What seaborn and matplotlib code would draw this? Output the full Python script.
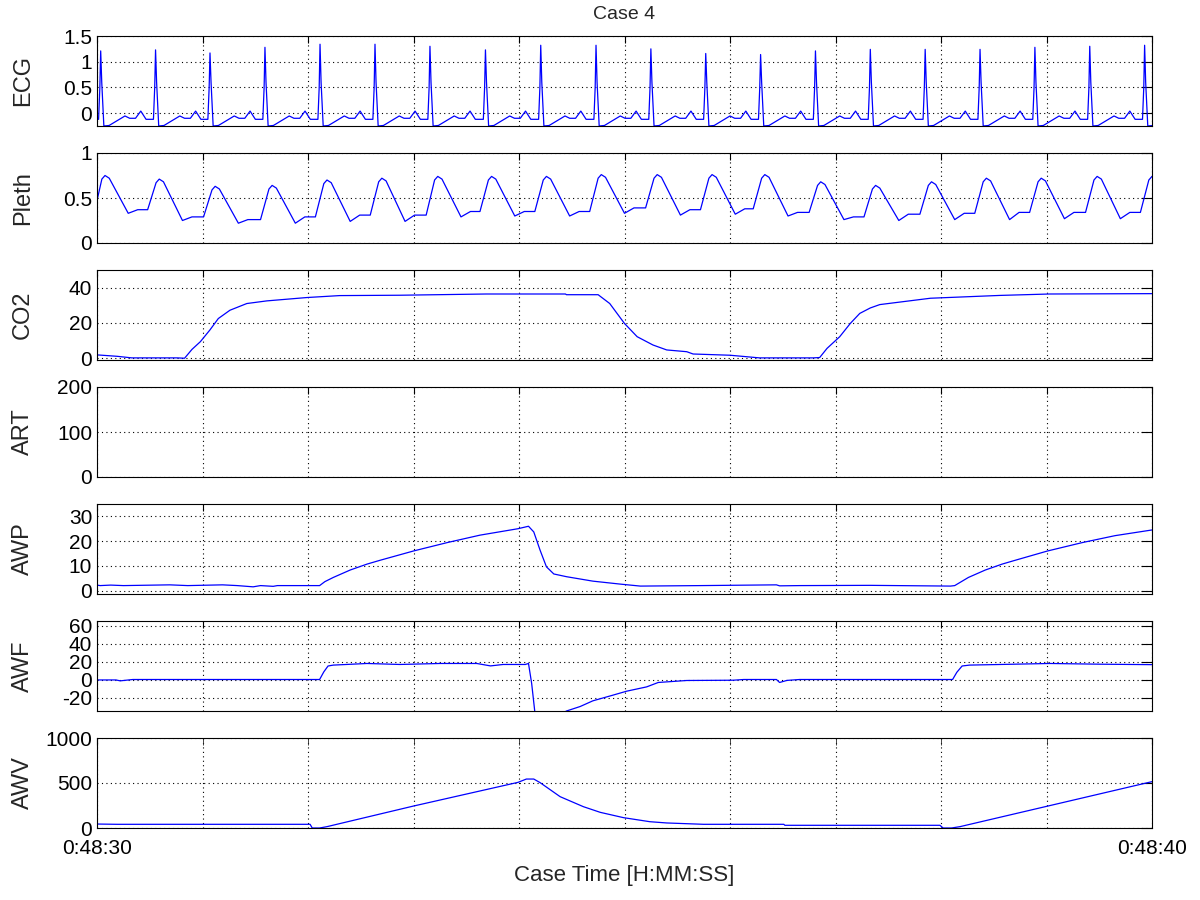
import numpy as np
import pandas as pd
import matplotlib
matplotlib.use('Agg')
import matplotlib.pyplot as plt
import seaborn as sns
from matplotlib.ticker import FormatStrFormatter

# time runs in seconds from 0:48:30 to 0:48:40
x_tick_labels = ['0:48:30', '0:48:40']
channels = ['ECG', 'Pleth', 'CO2', 'ART', 'AWP', 'AWF', 'AWV']

# ECG: R-peak times/heights and the shape of one beat around its R peak
ecg_r_times = [0.035, 0.555, 1.071, 1.592, 2.114, 2.635, 3.156, 3.682, 4.206, 4.73,
               5.25, 5.77, 6.29, 6.81, 7.33, 7.85, 8.37, 8.89, 9.41, 9.93]
ecg_r_heights = [1.21, 1.23, 1.17, 1.28, 1.34, 1.34, 1.30, 1.23, 1.32, 1.32,
                 1.25, 1.16, 1.14, 1.21, 1.24, 1.24, 1.24, 1.28, 1.30, 1.32]
ecg_beat_offsets = [-0.02, -0.008, 0.0, 0.01, 0.03, 0.08, 0.23, 0.275, 0.33, 0.38, 0.43, 0.495]
ecg_beat_values = [-0.12, 0.5, np.nan, 0.6, -0.25, -0.24, -0.055, -0.10, -0.10, 0.04, -0.12, -0.12]

# Pleth: per-pulse peak time, peak, trough and plateau levels
pleth_peak_t = [0.076, 0.59, 1.12, 1.66, 2.18, 2.70, 3.23, 3.74, 4.26, 4.78,
                5.31, 5.83, 6.33, 6.86, 7.38, 7.91, 8.43, 8.95, 9.48, 10.0]
pleth_peak_v = [0.75, 0.71, 0.63, 0.64, 0.70, 0.72, 0.74, 0.74, 0.74, 0.76,
                0.76, 0.76, 0.76, 0.68, 0.64, 0.68, 0.72, 0.72, 0.74, 0.74]
pleth_trough_v = [0.33, 0.25, 0.22, 0.22, 0.24, 0.24, 0.29, 0.30, 0.30, 0.33,
                  0.31, 0.32, 0.30, 0.26, 0.25, 0.26, 0.26, 0.27, 0.27, 0.27]
pleth_plateau_v = [0.37, 0.29, 0.26, 0.29, 0.31, 0.31, 0.35, 0.35, 0.35, 0.39,
                   0.37, 0.38, 0.34, 0.29, 0.32, 0.33, 0.34, 0.34, 0.34, 0.34]
pleth_start = 0.47

# CO2
co2_t = [0.0, 0.19, 0.33, 0.76, 0.83, 0.90, 0.98, 1.07, 1.15, 1.26, 1.42, 1.61, 1.99, 2.30,
         2.87, 3.69, 4.44, 4.45, 4.75, 4.86, 5.00, 5.12, 5.27, 5.40, 5.59, 5.65, 6.00, 6.28,
         6.79, 6.85, 6.92, 7.04, 7.14, 7.23, 7.33, 7.42, 7.90, 8.56, 9.03, 10.0]
co2_v = [1.9, 1.1, 0.2, 0.2, 0.0, 5.0, 9.4, 16.0, 22.5, 27.2, 31.0, 32.5, 34.4, 35.5,
         35.7, 36.4, 36.4, 36.0, 36.0, 31.0, 19.7, 12.2, 7.5, 4.7, 3.7, 2.4, 1.7, 0.2,
         0.2, 0.4, 5.6, 12.2, 19.7, 25.4, 28.5, 30.4, 34.0, 35.6, 36.4, 36.6]

# AWP
awp_t = [0.0, 0.03, 0.13, 0.25, 0.69, 0.86, 1.19, 1.33, 1.48, 1.55, 1.67, 1.71, 2.11, 2.16,
         2.24, 2.40, 2.56, 2.68, 3.00, 3.32, 3.63, 3.99, 4.09, 4.14, 4.20, 4.26, 4.33, 4.45,
         4.70, 4.96, 5.15, 5.72, 6.44, 6.47, 6.66, 7.33, 8.09, 8.13, 8.26, 8.42, 8.58, 8.70,
         9.01, 9.34, 9.65, 10.0]
awp_v = [2.2, 2.0, 2.2, 2.0, 2.3, 2.0, 2.3, 2.0, 1.5, 2.0, 1.7, 2.0, 2.0, 3.6,
         5.3, 8.3, 10.7, 12.2, 16.0, 19.4, 22.4, 25.0, 26.0, 23.7, 16.3, 9.6, 6.7, 5.6,
         3.8, 2.6, 1.8, 2.0, 2.3, 1.9, 2.0, 2.1, 1.8, 2.0, 5.3, 8.3, 10.7, 12.2,
         16.0, 19.4, 22.2, 24.5]

# AWF
awf_t = [0.0, 0.18, 0.22, 0.34, 2.11, 2.15, 2.19, 2.24, 2.56, 2.87, 3.25, 3.60, 3.73, 3.85,
         4.06, 4.09, 4.12, 4.15, 4.20, 4.34, 4.45, 4.58, 4.70, 4.89, 5.02, 5.21, 5.32, 5.59,
         6.03, 6.13, 6.44, 6.47, 6.54, 6.66, 8.11, 8.15, 8.20, 8.27, 9.03, 9.51, 10.0]
awf_v = [-0.5, -0.5, -1.5, 0.0, 0.0, 8.5, 15.0, 16.0, 17.8, 16.7, 17.8, 17.8, 15.1, 16.7,
         16.7, 17.8, -4.4, -36.0, -46.0, -42.0, -35.0, -30.0, -23.7, -17.4, -13.0, -8.2, -3.3, -1.1,
         -0.8, 0.0, 0.0, -3.3, -1.0, 0.0, 0.0, 8.0, 15.0, 16.0, 17.8, 17.0, 16.5]

# AWV
awv_t = [0.0, 0.19, 2.02, 2.04, 2.11, 2.18, 3.00, 3.99, 4.07, 4.14, 4.20, 4.39, 4.61, 4.77,
         4.99, 5.24, 5.40, 5.75, 6.51, 6.52, 7.99, 8.02, 8.10, 8.18, 10.0]
awv_v = [44, 41, 41, 0, 0, 15, 244, 507, 544, 544, 504, 348, 237, 174,
         115, 70, 56, 41, 41, 30, 30, 0, 0, 15, 515]

# axis ranges and tick values per channel
y_limits = [(-0.25, 1.5), (0, 1), (-1, 50), (0, 200), (-1.4, 35), (-35, 65), (0, 1000)]
y_ticks = [[0, 0.5, 1, 1.5], [0, 0.5, 1], [0, 20, 40], [0, 100, 200],
           [0, 10, 20, 30], [-20, 0, 20, 40, 60], [0, 500, 1000]]

# assemble the repeated waveforms from the read values
ecg_t, ecg_v = [0.0], [-0.12]
for tr, h in zip(ecg_r_times, ecg_r_heights):
    for off, val in zip(ecg_beat_offsets, ecg_beat_values):
        ecg_t.append(tr + off)
        ecg_v.append(h if np.isnan(val) else val)

pleth_t, pleth_v = [0.0], [pleth_start]
for i, tp in enumerate(pleth_peak_t):
    prev_plateau = pleth_plateau_v[i - 1] if i > 0 else pleth_start
    pts = [(tp - 0.11, prev_plateau), (tp - 0.03, pleth_peak_v[i] - 0.04), (tp, pleth_peak_v[i]),
           (tp + 0.04, pleth_peak_v[i] - 0.03), (tp + 0.22, pleth_trough_v[i]),
           (tp + 0.31, pleth_plateau_v[i])]
    for t, v in pts:
        if t > 0:
            pleth_t.append(t)
            pleth_v.append(v)

traces = [(ecg_t, ecg_v), (pleth_t, pleth_v), (co2_t, co2_v), ([], []),
          (awp_t, awp_v), (awf_t, awf_v), (awv_t, awv_v)]

sns.set_style('white')
plt.rcParams['font.family'] = ['Liberation Sans', 'DejaVu Sans']

fig = plt.figure(figsize=(12, 9), dpi=100)
left, width, height = 97 / 1200, 1055 / 1200, 90 / 900
tops = [36, 153, 270, 387, 504, 621, 738]

axes = []
for i, name in enumerate(channels):
    ax = fig.add_axes([left, 1 - (tops[i] + 90) / 900, width, height])
    t, v = traces[i]
    if len(t):
        df = pd.DataFrame({'t': t, 'v': v})
        sns.lineplot(data=df, x='t', y='v', ax=ax, color='#0000ff', linewidth=0.9,
                     estimator=None, sort=False)
    ax.set_xlim(0, 10)
    ax.set_ylim(*y_limits[i])
    ax.set_xticks(range(11))
    ax.set_yticks(y_ticks[i])
    ax.yaxis.set_major_formatter(FormatStrFormatter('%g'))
    ax.set_xticklabels([])
    ax.grid(True, color='black', linestyle=(0, (1, 3)), linewidth=0.8)
    ax.tick_params(axis='both', direction='in', top=True, right=True, labelsize=15,
                   colors='black', width=0.8)
    ax.tick_params(axis='x', length=5)
    ax.tick_params(axis='y', length=8)
    for s in ax.spines.values():
        s.set_color('black')
        s.set_linewidth(0.8)
    ax.set_xlabel('')
    ax.set_ylabel(name, fontsize=17)
    ax.yaxis.set_label_coords(-0.06, 0.5)
    axes.append(ax)

axes[0].set_title('Case 4', fontsize=14, pad=12)
bottom = axes[-1]
bottom.set_xticks([0, 10])
bottom.set_xticklabels(x_tick_labels)
bottom.set_xticks(range(11), minor=True)
bottom.tick_params(axis='x', which='both', direction='in', top=True, length=5, pad=8)
bottom.grid(True, which='minor', axis='x', color='black', linestyle=(0, (1, 3)), linewidth=0.8)
bottom.set_xlabel('Case Time [H:MM:SS]', fontsize=16, labelpad=5)

fig.savefig('out.png', dpi=100)
